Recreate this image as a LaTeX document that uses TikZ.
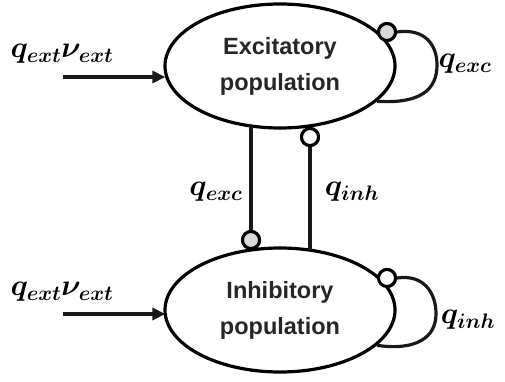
\RequirePackage{fix-cm}
\documentclass[tikz,border=0pt]{standalone}
\usepackage{bm}
\usepackage{fontspec}
\setmainfont{Liberation Sans}
\usetikzlibrary{shapes.geometric,arrows.meta}
\tikzset{
  pop/.style={ellipse, draw, line width=3.2pt, fill=white, minimum width=230pt, minimum height=124pt,
    font=\fontsize{23.5}{36}\selectfont\bfseries, align=center, text=black!85},
  syn/.style={circle, draw, line width=3pt, minimum size=17pt, inner sep=0pt},
  exc/.style={syn, fill=black!15},
  inh/.style={syn, fill=white},
  wire/.style={line width=3.2pt, draw=black!90},
  inarrow/.style={wire, -{Triangle[length=13pt,width=12pt]}, shorten >=-2pt},
  lab/.style={font=\fontsize{30}{34}\selectfont, inner sep=0pt}
}
\begin{document}
\begin{tikzpicture}[x=1pt,y=-1pt]
\useasboundingbox (0,0) rectangle (505,382);
\node[exc] (c1) at (251,240) {};
\node[inh] (c2) at (310,137) {};
\node[exc] (c3) at (387,32) {};
\node[inh] (c4) at (387,278) {};
\node[pop] (E) at (280,66) {Excitatory\\population};
\node[pop] (I) at (280,310) {Inhibitory\\population};
\draw[wire] (c1.north) -- ([yshift=4pt]c1 |- E.south);
\draw[wire] (c2.south) -- ([yshift=-4pt]c2 |- I.north);
\draw[wire] (c3.east) .. controls (425,28) and (437,45) .. (437,65)
  .. controls (437,90) and (420,104) .. (E.-20);
\draw[wire] (c4.east) .. controls (425,274) and (436,294) .. (436,314)
  .. controls (436,338) and (415,351) .. (I.-20);
\node[exc] at (c1) {};
\node[inh] at (c2) {};
\node[exc] at (c3) {};
\node[inh] at (c4) {};
\coordinate (s1) at (63,77);
\coordinate (s2) at (63,314);
\draw[inarrow] (s1) -- (s1 -| E.west);
\draw[inarrow] (s2) -- (s2 -| I.west);
\node[lab] (l1) at (62,54) {$\bm{q_{ext}\nu_{ext}}$};
\node[lab] (l2) at (62,292) {$\bm{q_{ext}\nu_{ext}}$};
\node[lab] (l3) at (465,64) {$\bm{q_{exc}}$};
\node[lab] (l4) at (216,192) {$\bm{q_{exc}}$};
\node[lab] (l5) at (352,192) {$\bm{q_{inh}}$};
\node[lab] (l6) at (468,320) {$\bm{q_{inh}}$};
\end{tikzpicture}
\end{document}
